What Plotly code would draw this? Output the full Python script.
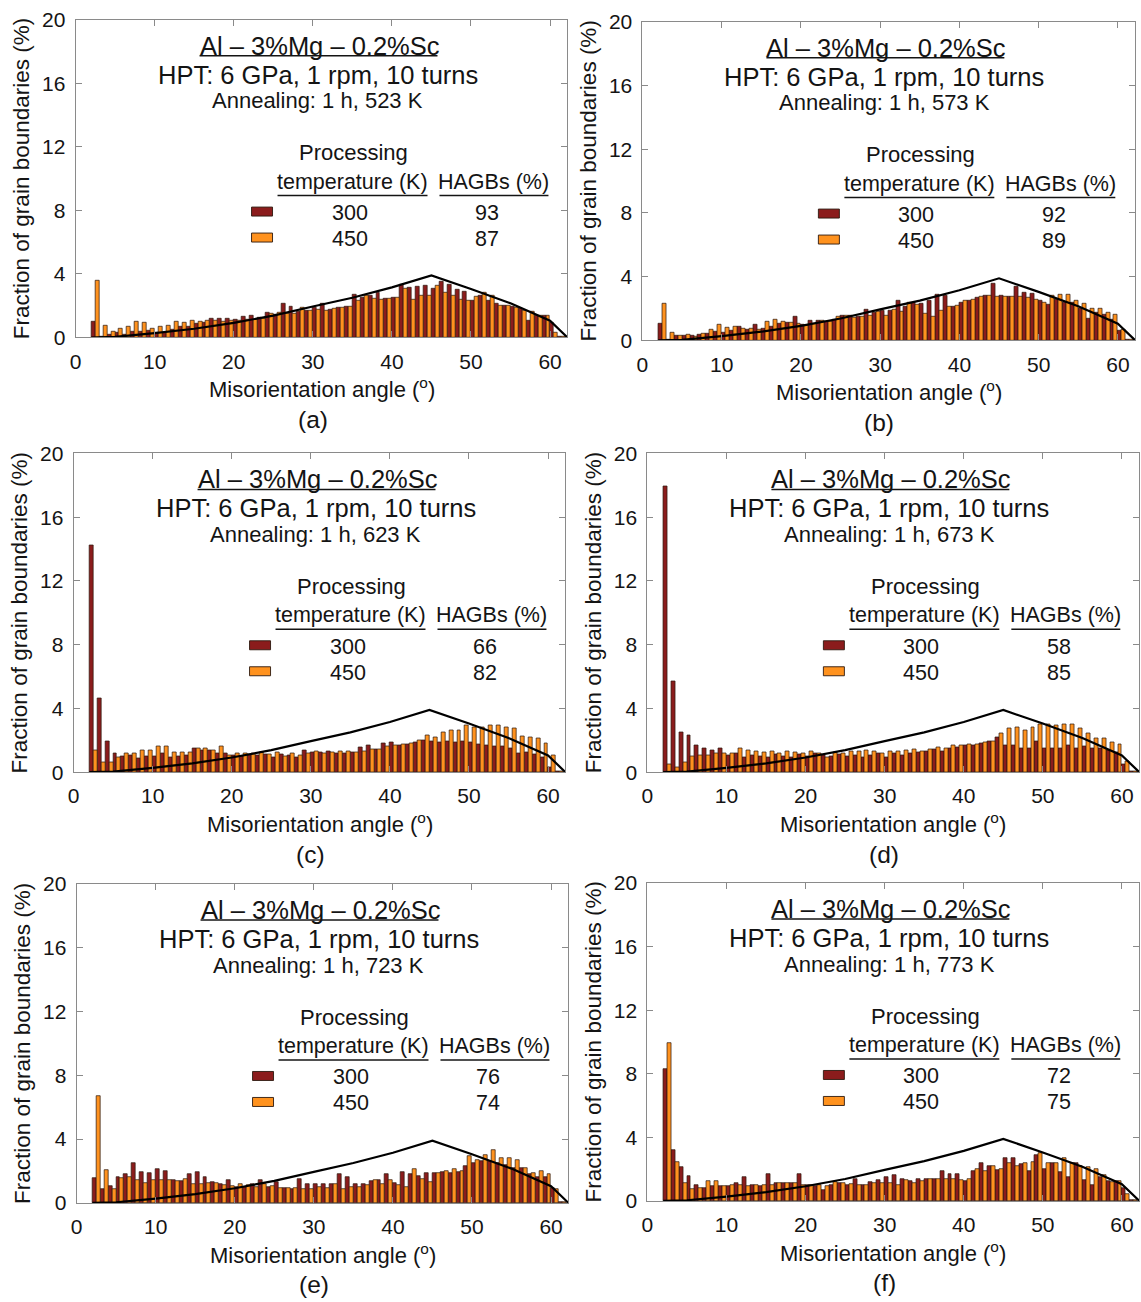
import plotly.graph_objects as go

# ---------------------------------------------------------------------------
# Misorientation-angle histograms, 1-degree bins from 2 to 62 degrees
# ---------------------------------------------------------------------------
bins = list(range(2, 62))
centers = [b + 0.5 for b in bins]

processing_temps = ["300", "450"]
anneal_temps = ["523", "573", "623", "673", "723", "773"]
panel_tags = ["(a)", "(b)", "(c)", "(d)", "(e)", "(f)"]
hagb_300 = [93, 92, 66, 58, 76, 72]
hagb_450 = [87, 89, 82, 85, 74, 75]

# Mackenzie distribution for randomly oriented cubic grains
mack_angle = [2, 5, 10, 15, 20, 25, 30, 35, 40, 45, 50, 55, 60, 62.2]
mack_freq = [0, 0.04, 0.27, 0.55, 0.92, 1.38, 1.95, 2.5, 3.15, 3.9, 3.05, 2.15, 1.05, 0]

red_a = [1.0, 0.05, 0.2, 0.3, 0.2, 0.35, 0.35, 0.45, 0.3, 0.3,
         0.5, 0.7, 0.7, 0.85, 0.95, 1.2, 1.2, 1.2, 1.1, 1.3,
         1.4, 1.25, 1.55, 1.45, 2.15, 1.95, 1.6, 1.7, 1.9, 2.1,
         1.75, 1.9, 1.95, 2.7, 2.5, 2.65, 2.8, 2.45, 2.5, 3.3,
         3.15, 3.2, 3.25, 3.05, 3.5, 3.3, 3.0, 2.9, 2.3, 2.6,
         2.3, 2.15, 2.0, 1.95, 1.8, 1.05, 1.35, 1.4, 0.9, 0.05]
orange_a = [3.6, 0.75, 0.35, 0.55, 0.68, 1.0, 0.9, 0.55, 0.7, 0.75,
            1.0, 0.9, 1.05, 1.0, 1.05, 1.05, 1.0, 1.05, 1.05, 1.1,
            1.15, 1.2, 1.5, 1.55, 1.5, 1.5, 1.85, 1.7, 1.75, 1.7,
            1.8, 1.9, 1.95, 2.3, 2.65, 2.45, 2.4, 2.45, 2.5, 3.05,
            2.35, 2.65, 2.65, 3.25, 2.85, 2.6, 2.4, 2.3, 2.55, 2.8,
            2.6, 2.0, 2.0, 1.9, 1.7, 1.6, 1.4, 1.4, 0.3, 0.05]

red_b = [1.07, 0.05, 0.33, 0.3, 0.3, 0.35, 0.4, 0.55, 0.5, 0.6,
         0.85, 0.7, 1.0, 0.75, 0.85, 1.05, 1.1, 1.5, 1.0, 1.25,
         1.25, 1.2, 1.3, 1.55, 1.55, 1.5, 1.95, 1.75, 1.85, 1.85,
         2.5, 2.1, 2.4, 2.3, 2.5, 2.85, 2.8, 2.15, 2.4, 2.5,
         2.7, 2.8, 3.55, 2.8, 2.75, 3.35, 3.0, 2.95, 2.5, 2.25,
         2.55, 2.35, 2.35, 2.0, 1.35, 1.75, 1.6, 1.3, 0.6, 0.05]
orange_b = [2.3, 0.52, 0.33, 0.35, 0.25, 0.45, 0.65, 1.0, 0.8, 0.85,
            0.75, 0.75, 0.7, 1.2, 1.3, 1.15, 1.1, 1.05, 0.95, 1.05,
            1.25, 1.2, 1.5, 1.55, 1.4, 1.5, 1.55, 1.8, 1.55, 1.95,
            1.8, 2.35, 2.25, 1.7, 1.5, 1.9, 2.15, 2.2, 2.5, 2.55,
            2.75, 2.8, 2.75, 2.75, 2.75, 2.75, 2.7, 2.55, 2.4, 2.8,
            2.85, 2.9, 2.5, 2.3, 2.0, 2.0, 1.75, 1.6, 0.7, 0.05]

red_c = [14.2, 4.6, 1.95, 1.17, 0.96, 1.07, 0.86, 0.96, 0.96, 1.17,
         0.94, 0.96, 1.07, 1.5, 1.38, 1.38, 1.2, 1.17, 1.05, 1.0,
         1.1, 1.05, 1.1, 0.95, 1.1, 1.05, 0.95, 1.38, 1.25, 1.25,
         1.3, 1.2, 1.2, 1.25, 1.57, 1.7, 1.45, 1.78, 1.88, 1.7,
         1.75, 1.85, 2.0, 1.95, 1.9, 1.95, 1.9, 1.95, 1.85, 1.73,
         1.7, 1.6, 1.6, 1.5, 1.2, 1.25, 1.1, 0.95, 0.3, 0.02]
orange_c = [1.36, 0.63, 0.63, 0.94, 1.17, 1.17, 1.38, 1.38, 1.59, 1.59,
            1.25, 1.25, 1.25, 1.5, 1.5, 1.38, 1.59, 1.05, 1.17, 1.2,
            1.2, 1.25, 1.1, 1.25, 1.0, 1.2, 1.05, 1.2, 1.3, 1.2,
            1.25, 1.3, 1.3, 1.25, 1.3, 1.45, 1.4, 1.6, 1.7, 1.75,
            1.8, 2.0, 2.3, 2.2, 2.47, 2.6, 2.6, 2.93, 2.82, 2.78,
            2.93, 2.95, 2.78, 2.72, 2.26, 2.2, 2.09, 1.8, 1.07, 0.05]

red_d = [17.9, 5.7, 2.47, 2.3, 1.67, 1.48, 1.36, 1.48, 1.07, 1.2,
         0.9, 1.05, 1.0, 0.95, 1.1, 1.0, 0.95, 1.1, 1.0, 1.2,
         1.05, 1.0, 1.1, 1.0, 1.05, 0.9, 1.05, 1.2, 0.95, 1.2,
         1.05, 1.15, 1.25, 1.3, 1.45, 1.3, 1.5, 1.55, 1.7, 1.65,
         1.8, 1.95, 2.2, 1.7, 1.65, 1.5, 1.5, 1.95, 1.5, 1.5,
         1.5, 1.7, 1.5, 1.6, 1.5, 1.5, 1.35, 1.25, 0.5, 0.02]
orange_d = [0.48, 0.31, 0.63, 1.0, 1.07, 1.07, 1.2, 1.17, 1.2, 1.48,
            1.36, 1.3, 1.25, 1.3, 1.2, 1.3, 1.25, 1.2, 1.3, 1.2,
            0.95, 1.25, 1.2, 1.3, 1.3, 1.35, 1.3, 1.2, 1.3, 1.3,
            1.35, 1.4, 1.3, 1.45, 1.57, 1.5, 1.67, 1.7, 1.73, 1.75,
            1.84, 1.95, 2.42, 2.72, 2.78, 2.6, 2.78, 3.0, 3.0, 2.93,
            3.0, 3.0, 2.72, 2.42, 2.15, 2.1, 1.88, 1.73, 0.65, 0.05]

red_e = [1.55, 0.86, 1.07, 1.63, 1.8, 2.47, 1.94, 1.84, 2.1, 2.0,
         1.42, 1.38, 1.8, 1.94, 1.63, 1.3, 1.2, 1.42, 1.0, 1.0,
         1.2, 1.4, 1.0, 1.3, 0.9, 0.85, 1.5, 1.2, 1.2, 1.2,
         1.2, 1.8, 1.6, 1.2, 1.2, 1.35, 1.45, 1.8, 1.25, 1.94,
         1.8, 1.65, 1.9, 1.85, 1.95, 1.9, 1.95, 2.3, 2.5, 2.6,
         2.6, 2.5, 2.4, 2.2, 2.2, 1.8, 1.6, 1.6, 0.9, 0.02]
orange_e = [6.7, 2.05, 0.86, 1.55, 1.6, 1.42, 1.27, 1.42, 1.42, 1.42,
            1.38, 1.48, 1.17, 1.2, 1.27, 1.27, 1.1, 1.05, 1.2, 1.1,
            1.0, 1.15, 1.05, 0.9, 0.9, 0.9, 0.85, 0.85, 1.0, 0.95,
            1.2, 0.85, 1.0, 1.0, 1.1, 1.45, 1.2, 1.45, 1.1, 1.0,
            2.1, 1.5, 1.3, 1.9, 2.0, 2.1, 2.0, 2.95, 2.7, 3.0,
            3.3, 2.8, 2.8, 2.7, 2.2, 1.9, 2.0, 1.8, 0.85, 0.05]

red_f = [8.3, 3.2, 2.1, 1.55, 1.0, 0.78, 0.94, 0.9, 0.95, 1.15,
         1.47, 1.0, 0.95, 1.68, 1.1, 1.15, 1.15, 1.68, 1.0, 0.9,
         0.7, 1.0, 1.15, 1.0, 1.4, 1.0, 1.2, 1.3, 1.5, 1.6,
         1.35, 1.25, 1.4, 1.4, 1.4, 1.9, 1.7, 1.7, 1.25, 1.9,
         2.4, 2.2, 1.95, 2.7, 2.7, 2.3, 1.9, 2.9, 2.0, 2.4,
         1.8, 1.5, 2.4, 1.3, 1.0, 1.5, 1.25, 1.25, 0.8, 0.02]
orange_f = [9.9, 2.47, 1.15, 0.73, 0.8, 1.22, 1.22, 0.94, 1.0, 1.0,
            0.9, 1.0, 1.0, 1.0, 1.1, 1.15, 1.15, 1.0, 1.0, 1.0,
            0.9, 1.2, 1.1, 1.05, 1.0, 1.0, 1.15, 1.15, 1.1, 1.0,
            1.3, 1.1, 1.25, 1.4, 1.4, 1.4, 1.4, 1.3, 1.35, 2.0,
            1.9, 2.2, 2.0, 2.4, 2.2, 2.35, 2.45, 3.0, 2.4, 2.4,
            2.7, 2.4, 2.2, 2.1, 2.0, 1.6, 1.2, 1.25, 0.4, 0.05]

series_300 = [red_a, red_b, red_c, red_d, red_e, red_f]
series_450 = [orange_a, orange_b, orange_c, orange_d, orange_e, orange_f]

# ---------------------------------------------------------------------------
# Page geometry (pixels): plot box left, right, bottom, top for each panel
# ---------------------------------------------------------------------------
W, H = 1141, 1302
boxes = [
    (75, 567, 336, 18),
    (642, 1135, 339, 20),
    (73, 565, 771, 452),
    (647, 1139, 771, 452),
    (76, 568, 1202, 883),
    (647, 1139, 1200, 882),
]

COLOR_300 = "#8B1C1C"
COLOR_450 = "#FF921E"
EDGE = "rgba(45,25,15,0.9)"
FRAME = "#8a8a8a"
TXT = "#141414"
FONT = "Liberation Sans, Arial, sans-serif"

# Pixel -> paper conversion, with a small correction for how the page is displayed
SX, OX = 0.995, 5.4
SY, OY = 0.983, 10.3


def fx(p):
    return ((p - OX) / SX) / W


def fy(p):
    return 1 - ((p - OY) / SY) / H


fig = go.Figure()
annotations = []
shapes = []

for k in range(6):
    x0, x1, y0, y1 = boxes[k]
    sfx = "" if k == 0 else str(k + 1)
    xa, ya = "x" + sfx, "y" + sfx

    fig.add_trace(go.Bar(x=centers, y=series_300[k], xaxis=xa, yaxis=ya,
                         marker=dict(color=COLOR_300, line=dict(color=EDGE, width=0.8)),
                         showlegend=False))
    fig.add_trace(go.Bar(x=centers, y=series_450[k], xaxis=xa, yaxis=ya,
                         marker=dict(color=COLOR_450, line=dict(color=EDGE, width=0.8)),
                         showlegend=False))
    fig.add_trace(go.Scatter(x=mack_angle, y=mack_freq, xaxis=xa, yaxis=ya,
                             mode="lines", line=dict(color="black", width=2.2),
                             showlegend=False))

    axis_common = dict(showline=True, linecolor=FRAME, linewidth=1, mirror="ticks",
                       ticks="inside", ticklen=6, tickwidth=1, tickcolor=FRAME,
                       showgrid=False, zeroline=False,
                       tickfont=dict(family=FONT, size=21, color=TXT))
    fig.update_layout({
        "xaxis" + sfx: dict(domain=[fx(x0), fx(x1)], range=[0, 62.2], anchor=ya,
                            tickmode="linear", tick0=0, dtick=10,
                            ticklabelstandoff=5, **axis_common),
        "yaxis" + sfx: dict(domain=[fy(y0), fy(y1)], range=[0, 20], anchor=xa,
                            tickmode="linear", tick0=0, dtick=4,
                            ticklabelstandoff=5, **axis_common),
    })

    def note(text, px_, py_, size, xanchor="center"):
        annotations.append(dict(text=text, x=fx(px_), y=fy(py_), xref="paper", yref="paper",
                                xanchor=xanchor, yanchor="middle", showarrow=False,
                                font=dict(family=FONT, size=size, color=TXT)))

    def hline(xa_, xb_, yy, width=1.5):
        shapes.append(dict(type="line", xref="paper", yref="paper",
                           x0=fx(xa_), x1=fx(xb_), y0=fy(yy), y1=fy(yy),
                           line=dict(color=TXT, width=width)))

    # Title block
    note("Al – 3%Mg – 0.2%Sc", x0 + 244, y1 + 26, 25.5)
    hline(x0 + 124, x0 + 362, y1 + 36)
    note("HPT: 6 GPa, 1 rpm, 10 turns", x0 + 242, y1 + 55, 25.5)
    note(f"Annealing: 1 h, {anneal_temps[k]} K", x0 + 242, y1 + 81, 22)

    # Legend table
    note("Processing", x0 + 278, y1 + 133, 22)
    note("temperature (K)", x0 + 277, y1 + 162, 21.5)
    note("HAGBs (%)", x0 + 418, y1 + 162, 21.5)
    hline(x0 + 202, x0 + 352, y1 + 176)
    hline(x0 + 364, x0 + 473, y1 + 176)
    for row, (col, temp, hagb) in enumerate(zip([COLOR_300, COLOR_450], processing_temps,
                                                [hagb_300[k], hagb_450[k]])):
        yy = y1 + 192 + 26 * row
        shapes.append(dict(type="rect", xref="paper", yref="paper",
                           x0=fx(x0 + 176), x1=fx(x0 + 197), y0=fy(yy - 4.5), y1=fy(yy + 4.5),
                           fillcolor=col, line=dict(color=EDGE, width=1)))
        note(temp, x0 + 274, yy + 1.5, 21.5)
        note(str(hagb), x0 + 412, yy + 1.5, 21.5)

    # Axis titles and panel tag
    note("Misorientation angle (<sup>o</sup>)", (x0 + x1) / 2, y0 + 51, 22)
    note(panel_tags[k], x0 + 237, y0 + 82, 24.5)
    annotations.append(dict(text="Fraction of grain boundaries (%)", textangle=-90,
                            x=fx(x0 - 54), y=fy((y0 + y1) / 2), xref="paper", yref="paper",
                            xanchor="center", yanchor="middle", showarrow=False,
                            font=dict(family=FONT, size=22.5, color=TXT)))

fig.update_layout(
    width=W, height=H, margin=dict(l=0, r=0, t=0, b=0),
    paper_bgcolor="white", plot_bgcolor="white",
    barmode="group", bargap=0, bargroupgap=0,
    annotations=annotations, shapes=shapes,
    font=dict(family=FONT, color=TXT),
)

fig.write_html("out.html")
